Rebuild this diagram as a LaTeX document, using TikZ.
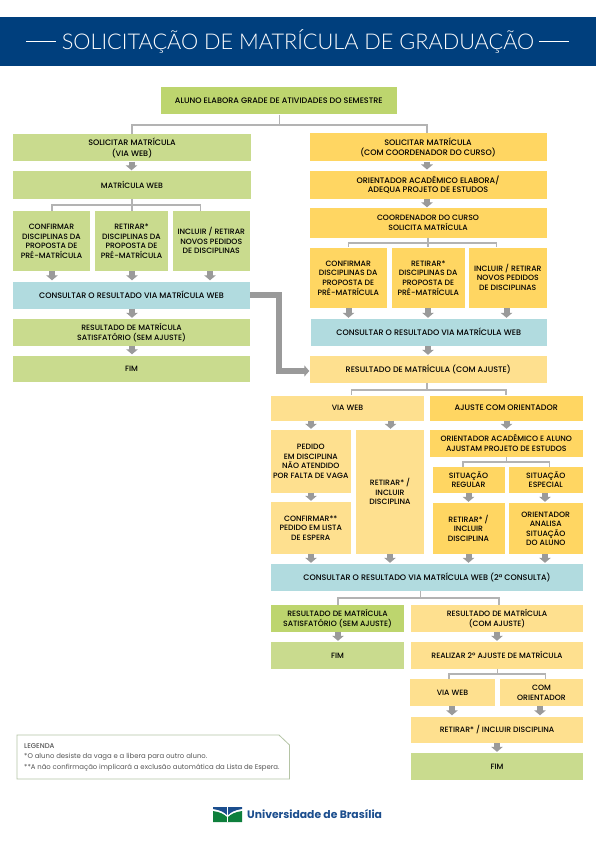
\documentclass[tikz,border=0pt]{standalone}
\usepackage{fontspec}
\usetikzlibrary{arrows.meta}
\setmainfont{Poppins}
\newfontfamily\titlefont{Lato Light}
\newfontfamily\medfont{Poppins Medium}
\definecolor{hdr}{HTML}{003F7D}
\definecolor{grA}{HTML}{BDD56E}
\definecolor{grB}{HTML}{C9DB8E}
\definecolor{yeA}{HTML}{FFD662}
\definecolor{yeB}{HTML}{FEE08F}
\definecolor{blu}{HTML}{B1DBDF}
\definecolor{cnn}{HTML}{B3B3B3}
\definecolor{arw}{HTML}{9A9A9A}
\definecolor{leg}{HTML}{B5C4A5}
\definecolor{lgt}{HTML}{555555}
\definecolor{ugr}{HTML}{0E7F3C}
\definecolor{ubl}{HTML}{1C4E8E}
\newcommand{\wdtxt}[1]{{\fontsize{8}{9.5}\selectfont #1}}
\tikzset{
 box/.style={inner sep=0pt,align=center,font=\medfont\fontsize{7.7}{9.5}\selectfont,text=black},
 conn/.style={draw=cnn,line width=1.1pt},
 blk/.style={draw=arw,line width=6pt,-{Triangle[length=5pt,width=11.5pt]}},
 bigarrow/.style={draw=arw,line width=5.5pt,-{Triangle[length=5pt,width=11pt]}},
}
% name, colour, x1, y1, x2, y2, text
\newcommand{\bx}[7]{\pgfmathsetmacro{\cxx}{(#3+#5)/2}\pgfmathsetmacro{\cyy}{(#4+#6)/2}\pgfmathsetmacro{\wxx}{#5-#3}\pgfmathsetmacro{\hxx}{#6-#4}%
 \node[box,fill=#2,minimum width=\wxx pt,minimum height=\hxx pt] (#1) at (\cxx,\cyy) {\raisebox{-1pt}[\height][\depth]{\begin{tabular}{@{}c@{}}#7\end{tabular}}};}
% from, to, x
\newcommand{\ar}[3]{\draw[blk] (#3,0 |- #1.south) -- ([yshift=1pt]#3,0 |- #2.north);}
\begin{document}
\begin{tikzpicture}[x=1pt,y=-1pt]
\useasboundingbox (0,0) rectangle (596,842);
\fill[white] (0,0) rectangle (596,842);
\fill[hdr] (0,17) rectangle (596,66);
\node[inner sep=0pt,text=white,font=\titlefont\fontsize{21.7}{22}\selectfont] (title) at (298,41) {SOLICITAÇÃO DE MATRÍCULA DE GRADUAÇÃO};
\draw[white,line width=.7pt] (26,41) -- (56,41) (539,41) -- (569,41);

\bx{top}{grA}{160.5}{87.5}{397}{114.5}{\wdtxt{ALUNO ELABORA GRADE DE ATIVIDADES DO SEMESTRE}}
% left column
\bx{la}{grB}{13}{134}{251}{161.5}{\wdtxt{SOLICITAR MATRÍCULA}\\\wdtxt{(VIA WEB)}}
\bx{lb}{grB}{13}{171.5}{251}{199}{MATRÍCULA WEB}
\bx{lc}{grB}{13}{211.5}{90}{271}{CONFIRMAR\\DISCIPLINAS DA\\PROPOSTA DE\\PRÉ-MATRÍCULA}
\bx{ld}{grB}{95}{211.5}{168}{271}{RETIRAR*\\DISCIPLINAS DA\\PROPOSTA DE\\PRÉ-MATRÍCULA}
\bx{le}{grB}{172.5}{211.5}{250}{271}{INCLUIR / RETIRAR\\NOVOS PEDIDOS\\DE DISCIPLINAS}
\bx{lf}{blu}{13}{281.5}{250}{308.5}{\wdtxt{CONSULTAR O RESULTADO VIA MATRÍCULA WEB}}
\bx{lg}{grB}{13}{319}{250}{345.5}{RESULTADO DE MATRÍCULA\\SATISFATÓRIO (SEM AJUSTE)}
\bx{lh}{grB}{13}{355.5}{250}{382}{FIM}
% right column
\bx{ra}{yeA}{309.5}{133.5}{546.5}{161.5}{\wdtxt{SOLICITAR MATRÍCULA}\\\wdtxt{(COM COORDENADOR DO CURSO)}}
\bx{rb}{yeA}{309.5}{170.7}{546.5}{199}{\wdtxt{ORIENTADOR ACADÊMICO ELABORA/}\\\wdtxt{ADEQUA PROJETO DE ESTUDOS}}
\bx{rc}{yeA}{309.5}{208.5}{546.5}{237.5}{COORDENADOR DO CURSO\\SOLICITA MATRÍCULA}
\bx{rd}{yeA}{309.5}{247.5}{387}{308}{CONFIRMAR\\DISCIPLINAS DA\\PROPOSTA DE\\PRÉ-MATRÍCULA}
\bx{re}{yeA}{391.5}{247.5}{465}{308}{RETIRAR*\\DISCIPLINAS DA\\PROPOSTA DE\\PRÉ-MATRÍCULA}
\bx{rf}{yeA}{469}{247.5}{546.5}{308}{INCLUIR / RETIRAR\\NOVOS PEDIDOS\\DE DISCIPLINAS}
\bx{rg}{blu}{310.5}{319}{547}{346}{\wdtxt{CONSULTAR O RESULTADO VIA MATRÍCULA WEB}}
\bx{rh}{yeB}{309.5}{356}{547}{383}{\wdtxt{RESULTADO DE MATRÍCULA (COM AJUSTE)}}
\bx{va}{yeB}{271}{395.5}{424}{420.5}{VIA WEB}
\bx{oa}{yeA}{430}{395.5}{582.5}{420.5}{\wdtxt{AJUSTE COM ORIENTADOR}}
\bx{vb}{yeB}{271}{430}{350.5}{492.5}{PEDIDO\\EM DISCIPLINA\\NÃO ATENDIDO\\POR FALTA DE VAGA}
\bx{vc}{yeB}{356}{430}{424}{554}{RETIRAR* /\\INCLUIR\\DISCIPLINA}
\bx{vd}{yeB}{271}{502}{350.5}{554}{CONFIRMAR**\\PEDIDO EM LISTA\\DE ESPERA}
\bx{ob}{yeA}{430}{430}{582.5}{457}{ORIENTADOR ACADÊMICO E ALUNO\\AJUSTAM PROJETO DE ESTUDOS}
\bx{oc}{yeA}{432.5}{467}{504.5}{493}{SITUAÇÃO\\REGULAR}
\bx{od}{yeA}{509}{467}{582.5}{493}{SITUAÇÃO\\ESPECIAL}
\bx{oe}{yeA}{432.5}{503}{504.5}{554}{RETIRAR* /\\INCLUIR\\DISCIPLINA}
\bx{of}{yeA}{509}{503}{582.5}{554}{ORIENTADOR\\ANALISA\\SITUAÇÃO\\DO ALUNO}
\bx{ca}{blu}{271}{564}{583}{591}{\wdtxt{CONSULTAR O RESULTADO VIA MATRÍCULA WEB (2ª CONSULTA)}}
\bx{sa}{grA}{271}{605}{404}{631.5}{RESULTADO DE MATRÍCULA\\SATISFATÓRIO (SEM AJUSTE)}
\bx{sb}{grB}{271}{642}{404}{669}{FIM}
\bx{ta}{yeB}{411}{605}{583}{632}{RESULTADO DE MATRÍCULA\\(COM AJUSTE)}
\bx{tb}{yeB}{411}{642}{583}{669}{REALIZAR 2º AJUSTE DE MATRÍCULA}
\bx{tc}{yeB}{410}{679}{495}{706}{VIA WEB}
\bx{td}{yeB}{500}{679}{583}{706}{COM\\ORIENTADOR}
\bx{te}{yeB}{411}{716.5}{583}{743}{RETIRAR* / INCLUIR DISCIPLINA}
\bx{tf}{grB}{411}{753}{583}{780}{FIM}
% tree connectors
\draw[conn] (279.5,0 |- top.south) -- (279.5,125) -| (la.north);
\draw[conn] (279.5,125) -| (427,0 |- ra.north);
\draw[conn] (132,0 |- lb.south) -- (132,205) -| (52,0 |- lc.north);
\draw[conn] (132,205) -- (132,0 |- ld.north);
\draw[conn] (132,205) -| (200.5,0 |- le.north);
\draw[conn] (428,0 |- rc.south) -- (428,243) -| (348.5,0 |- rd.north);
\draw[conn] (428,243) -- (428,0 |- re.north);
\draw[conn] (428,243) -| (496.5,0 |- rf.north);
\draw[conn] (427,0 |- rh.south) -- (427,390) -| (351.7,0 |- va.north);
\draw[conn] (427,390) -| (506,0 |- oa.north);
\draw[conn] (506.5,0 |- ob.south) -- (506.5,462) -| (463,0 |- oc.north);
\draw[conn] (506.5,462) -| (549.5,0 |- od.north);
\draw[conn] (420.5,0 |- ca.south) -- (420.5,598) -| (338,0 |- sa.north);
\draw[conn] (420.5,598) -| (499,0 |- ta.north);
\draw[conn] (497.5,0 |- tb.south) -- (497.5,674) -| (449,0 |- tc.north);
\draw[conn] (497.5,674) -| (545.5,0 |- td.north);
% block arrows
\ar{la}{lb}{131.5}
\ar{lc}{lf}{52}\ar{ld}{lf}{132}\ar{le}{lf}{210}
\ar{lf}{lg}{132}\ar{lg}{lh}{132}
\ar{ra}{rb}{427}\ar{rb}{rc}{427}
\ar{rd}{rg}{348.5}\ar{re}{rg}{428}\ar{rf}{rg}{506.5}
\ar{rg}{rh}{428}
\ar{va}{vb}{311}\ar{va}{vc}{390.5}\ar{oa}{ob}{506.5}
\ar{oc}{oe}{468.5}\ar{od}{of}{545}
\ar{vb}{vd}{311}
\ar{vd}{ca}{311}\ar{vc}{ca}{390}\ar{oe}{ca}{468.5}\ar{of}{ca}{545}
\ar{sa}{sb}{338}\ar{ta}{tb}{497}
\ar{tc}{te}{452}\ar{td}{te}{540}\ar{te}{tf}{497}
\draw[bigarrow] (lf.east) -- (279,0 |- lf.east) -- (279,371) -- (rh.west |- 279,371);
% legend
\draw[leg,line width=.8pt,fill=white] (17,735) -- (279,735) -- (289.5,745) -- (289.5,779) -- (17,779) -- cycle;
\node[anchor=north west,inner sep=0pt,align=left,text=lgt,font=\fontsize{6.9}{10.3}\selectfont] (legtext) at (24,743.5) {{\medfont LEGENDA}\\*O aluno desiste da vaga e a libera para outro aluno.\\**A não confirmação implicará a exclusão automática da Lista de Espera.};
% logo
\fill[ubl] (213,807) -- (242,807) -- (242,809) .. controls (235,810) and (231,812) .. (227.5,815.5) .. controls (224,812) and (220,810) .. (213,809) -- cycle;
\fill[ugr] (213,811) .. controls (220,812) and (224,814) .. (227.5,817.5) .. controls (231,814) and (235,812) .. (242,811) -- (242,822) -- (213,822) -- cycle;
\draw[white,line width=.6pt] (227.5,807) -- (227.5,822);
\node[anchor=west,inner sep=0pt,text=ubl,font=\fontsize{10.8}{11}\selectfont\bfseries] (unb) at (247,814.5) {Universidade de Brasília};
\end{tikzpicture}
\end{document}
